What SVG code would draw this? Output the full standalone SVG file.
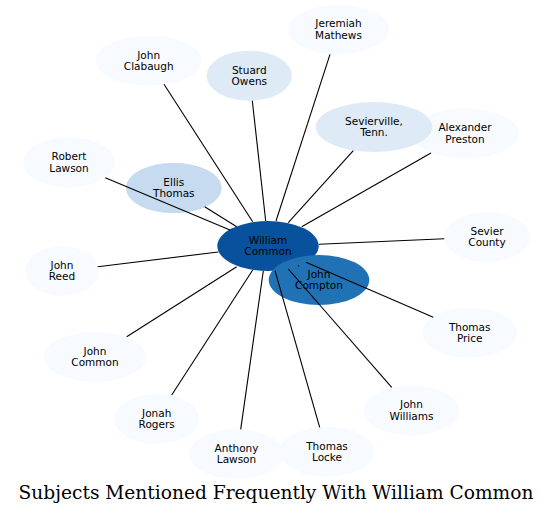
<svg xmlns="http://www.w3.org/2000/svg" width="553" height="514" viewBox="0 0 553 514">
<style>
.n text{font-family:"DejaVu Sans","Liberation Sans",sans-serif;font-size:10.5px;fill:#000;text-anchor:middle}
.c1{fill:#f7fbff}
.c2{fill:#deebf7}
.c3{fill:#c6dbef}
.c4{fill:#2171b5}
.c5{fill:#08519c}
#edges line{stroke:#000;stroke-width:1.1}
.title{font-family:"DejaVu Serif","Liberation Serif",serif;font-size:18.6px;fill:#000;text-anchor:middle}
</style>
<rect width="553" height="514" fill="#fff"/>
<g id="nodes">
<g id="n-william-common" class="n"><ellipse class="c5" cx="268" cy="246" rx="50.7" ry="25"/><text x="268" y="243.8">William</text><text x="268" y="255.4">Common</text></g>
<g id="n-john-compton" class="n"><ellipse class="c4" cx="319" cy="280" rx="50.3" ry="25"/><text x="319" y="277.8">John</text><text x="319" y="289.4">Compton</text></g>
<g id="n-jeremiah-mathews" class="n"><ellipse class="c1" cx="338.5" cy="29.5" rx="50.5" ry="24.5"/><text x="338.5" y="27.3">Jeremiah</text><text x="338.5" y="38.9">Mathews</text></g>
<g id="n-john-clabaugh" class="n"><ellipse class="c1" cx="148.7" cy="60.7" rx="53" ry="25"/><text x="148.7" y="58.5">John</text><text x="148.7" y="70.1">Clabaugh</text></g>
<g id="n-stuard-owens" class="n"><ellipse class="c2" cx="249.3" cy="75.7" rx="42.7" ry="25"/><text x="249.3" y="73.5">Stuard</text><text x="249.3" y="85.1">Owens</text></g>
<g id="n-alexander-preston" class="n"><ellipse class="c1" cx="465" cy="133.5" rx="54" ry="25"/><text x="465" y="131.3">Alexander</text><text x="465" y="142.9">Preston</text></g>
<g id="n-sevierville" class="n"><ellipse class="c2" cx="374" cy="127" rx="58.3" ry="25"/><text x="374" y="124.8">Sevierville,</text><text x="374" y="136.4">Tenn.</text></g>
<g id="n-ellis-thomas" class="n"><ellipse class="c3" cx="173.8" cy="188" rx="47.8" ry="25.3"/><text x="173.8" y="185.8">Ellis</text><text x="173.8" y="197.4">Thomas</text></g>
<g id="n-robert-lawson" class="n"><ellipse class="c1" cx="69" cy="162.3" rx="46" ry="25"/><text x="69" y="160.1">Robert</text><text x="69" y="171.7">Lawson</text></g>
<g id="n-john-reed" class="n"><ellipse class="c1" cx="62" cy="271" rx="36.7" ry="25"/><text x="62" y="268.8">John</text><text x="62" y="280.4">Reed</text></g>
<g id="n-sevier-county" class="n"><ellipse class="c1" cx="487" cy="237" rx="43" ry="25"/><text x="487" y="234.8">Sevier</text><text x="487" y="246.4">County</text></g>
<g id="n-thomas-price" class="n"><ellipse class="c1" cx="469.7" cy="332.7" rx="47.3" ry="25"/><text x="469.7" y="330.5">Thomas</text><text x="469.7" y="342.1">Price</text></g>
<g id="n-john-common" class="n"><ellipse class="c1" cx="95" cy="357" rx="51" ry="25"/><text x="95" y="354.8">John</text><text x="95" y="366.4">Common</text></g>
<g id="n-john-williams" class="n"><ellipse class="c1" cx="411.5" cy="410.5" rx="47.5" ry="25"/><text x="411.5" y="408.3">John</text><text x="411.5" y="419.9">Williams</text></g>
<g id="n-jonah-rogers" class="n"><ellipse class="c1" cx="156.7" cy="419" rx="42.7" ry="25"/><text x="156.7" y="416.8">Jonah</text><text x="156.7" y="428.4">Rogers</text></g>
<g id="n-anthony-lawson" class="n"><ellipse class="c1" cx="236.5" cy="454" rx="47.5" ry="25"/><text x="236.5" y="451.8">Anthony</text><text x="236.5" y="463.4">Lawson</text></g>
<g id="n-thomas-locke" class="n"><ellipse class="c1" cx="327" cy="451.7" rx="47" ry="25"/><text x="327" y="449.5">Thomas</text><text x="327" y="461.1">Locke</text></g>
</g>
<g id="edges">
<line x1="276" y1="221" x2="330" y2="54.3"/>
<line x1="252.7" y1="221.7" x2="164" y2="84.3"/>
<line x1="265.7" y1="221" x2="252.3" y2="100.7"/>
<line x1="288.3" y1="222.7" x2="353.3" y2="150.7"/>
<line x1="301.7" y1="226.7" x2="431" y2="153"/>
<line x1="236.7" y1="226.7" x2="204.7" y2="206.7"/>
<line x1="230" y1="230" x2="105.3" y2="177.7"/>
<line x1="218.3" y1="252" x2="97.7" y2="266.7"/>
<line x1="319" y1="244.3" x2="444.3" y2="238.7"/>
<line x1="306" y1="262.3" x2="433.3" y2="317.3"/>
<line x1="236.7" y1="266.7" x2="126.7" y2="336.7"/>
<line x1="252.7" y1="270" x2="171.7" y2="395"/>
<line x1="263.3" y1="271" x2="240.7" y2="429.3"/>
<line x1="275" y1="270.7" x2="319.7" y2="427.3"/>
<line x1="288.3" y1="269" x2="391.7" y2="387.3"/>
<line x1="298.3" y1="265.5" x2="299" y2="266.3"/>
</g>
<text class="title" x="276" y="499">Subjects Mentioned Frequently With William Common</text>
</svg>
